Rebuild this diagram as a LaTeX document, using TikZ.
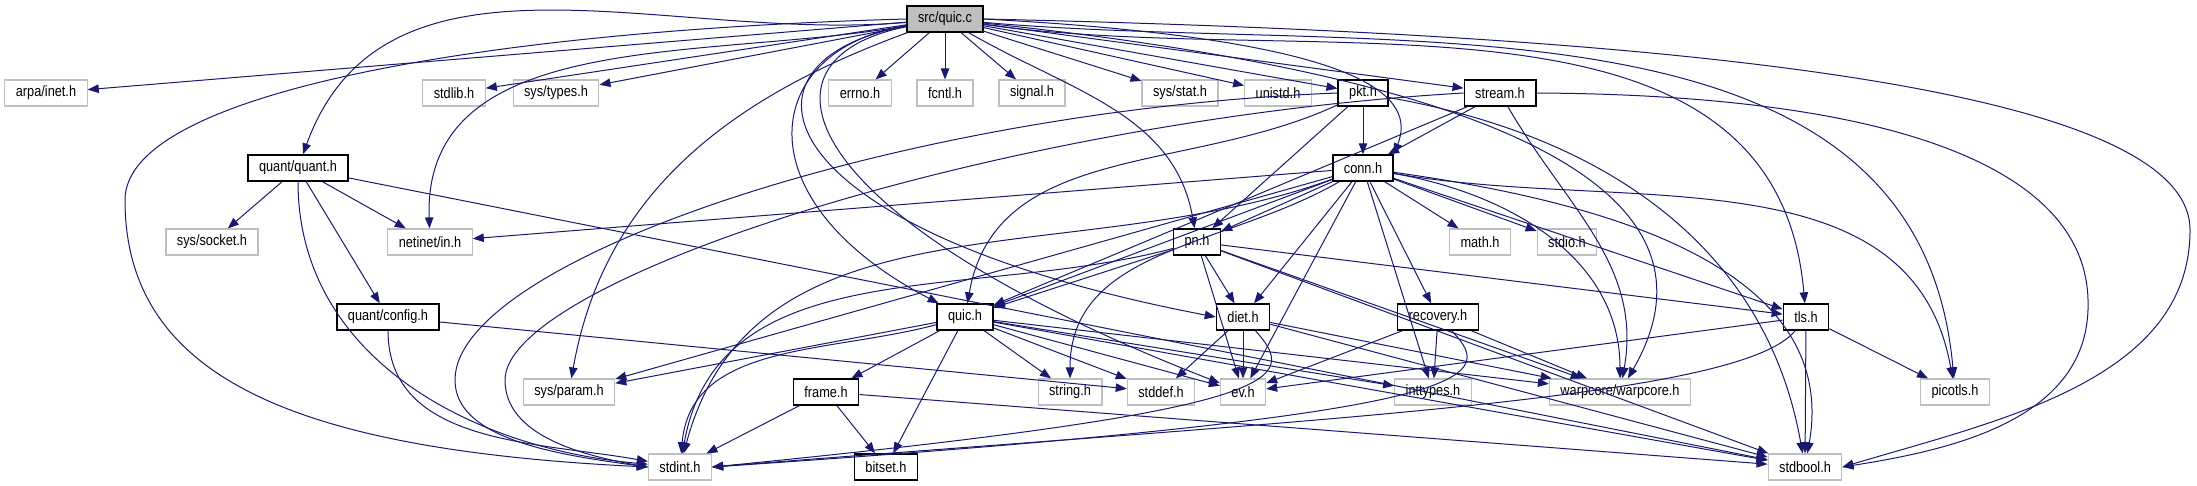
\documentclass[tikz,border=0pt]{standalone}
\usepackage{fontspec}
\setmainfont[FakeStretch=0.85]{Liberation Sans}
\usepackage{tikz}
\usetikzlibrary{arrows.meta}
\definecolor{navy}{HTML}{191970}
\definecolor{boxgray}{HTML}{BFBFBF}
\begin{document}
\begin{tikzpicture}[x=1pt,y=-1pt,
  arr/.style={-{Triangle[length=11pt,width=8.5pt]},draw=navy,line width=1pt},
  box/.style={minimum height=26pt,inner xsep=11pt,inner ysep=0pt,font=\fontsize{15}{15}\selectfont},
  sys/.style={box,draw=boxgray,line width=1.2pt},
  hdr/.style={box,draw=black,line width=1.4pt}]
\useasboundingbox (0,0) rectangle (2197,485);
\node[box,draw=black,fill=boxgray,line width=1.4pt] (quicc) at (945,19) {src/quic.c};
% system headers
\foreach \n/\x/\y/\t in {arpa/46/93/{arpa/inet.h},stdlib/454/93/stdlib.h,systypes/556/93/{sys/types.h},
  errno/860/93/errno.h,fcntl/945/93/fcntl.h,signal/1032/93/signal.h,sysstat/1180/93/{sys/stat.h},
  unistd/1278/93/unistd.h,syssocket/212/242/{sys/socket.h},netinet/430/242/{netinet/in.h},
  math/1480/242/math.h,stdio/1567/242/stdio.h,sysparam/569/392/{sys/param.h},string/1070/392/string.h,
  stddef/1161/392/stddef.h,ev/1243/392/ev.h,inttypes/1433/392/inttypes.h,
  warpcore/1620/392/{warpcore/warpcore.h},picotls/1955/392/picotls.h,stdint/680/467/stdint.h,
  stdbool/1805/467/stdbool.h}
  \node[sys] (\n) at (\x,\y) {\t};
% project headers
\foreach \n/\x/\y/\t in {pkt/1363/93/pkt.h,stream/1500/93/stream.h,quant/298/168/{quant/quant.h},
  conn/1363/168/conn.h,pn/1197/242/pn.h,config/388/317/{quant/config.h},quich/965/317/quic.h,
  diet/1243/317/diet.h,recovery/1438/317/recovery.h,tls/1806/317/tls.h,frame/826/392/frame.h,
  bitset/886/467/bitset.h}
  \node[hdr] (\n) at (\x,\y) {\t};
% straight includes
\foreach \a/\b in {quicc/arpa,quicc/stdlib,quicc/systypes,quicc/errno,quicc/fcntl,quicc/signal,
  quicc/sysstat,quicc/unistd,quicc/pkt,quicc/stream,
  quant/syssocket,quant/netinet,quant/config,quant/stdbool,config/stddef,
  pkt/conn,pkt/pn,stream/conn,stream/quich,
  conn/netinet,conn/math,conn/stdio,conn/pn,conn/quich,conn/diet,conn/recovery,conn/tls,
  conn/inttypes,conn/sysparam,conn/ev,
  pn/diet,pn/ev,pn/quich,pn/tls,pn/stdbool,pn/warpcore,
  quich/frame,quich/bitset,quich/string,quich/stddef,quich/ev,quich/inttypes,
  quich/stdbool,quich/sysparam,quich/warpcore,
  diet/stddef,diet/ev,diet/warpcore,diet/stdbool,recovery/ev,recovery/inttypes,recovery/warpcore,
  tls/stdbool,tls/picotls,tls/ev,frame/stdint,frame/bitset,frame/stdbool}
  \draw[arr] (\a) -- (\b);
% curved includes
\draw[arr] (quicc.west) .. controls (500,30) and (125,90) .. (125,200)
  .. controls (125,380) and (300,450) .. (stdint.west);
\draw[arr] (quicc.east) .. controls (1700,35) and (2190,90) .. (2190,230)
  .. controls (2190,380) and (2000,420) .. (stdbool.east);
\draw[arr] (stream.east) .. controls (1900,95) and (2085,170) .. (2088,300)
  .. controls (2092,420) and (1950,450) .. (stdbool.east);
\draw[arr] (pkt.west) .. controls (900,110) and (455,260) .. (455,380)
  .. controls (455,440) and (560,455) .. (stdint.west);
\draw[arr] (stream.west) .. controls (1000,120) and (505,280) .. (505,380)
  .. controls (505,435) and (580,455) .. (stdint.west);
\draw[arr] (quicc) to[out=185,in=70] (quant);
\draw[arr] (quicc) to[out=190,in=92] (netinet);
\draw[arr] (quicc) to[out=200,in=80] (sysparam);
\draw[arr] (quicc) .. controls (760,50) and (740,200) .. (quich);
\draw[arr] (quicc) .. controls (720,60) and (760,230) .. (diet.west);
\draw[arr] (quicc) .. controls (740,60) and (800,220) .. (ev);
\draw[arr] (quicc) to[out=-30,in=100] (pn);
\draw[arr] (quicc.east) .. controls (1380,40) and (1415,100) .. (conn.north east);
\draw[arr] (quicc) to[out=-8,in=95] (tls);
\draw[arr] (quicc) to[out=-5,in=95] (picotls);
\draw[arr] (quicc) to[out=-6,in=60] (warpcore);
\draw[arr] (quant) to[out=-90,in=175] (stdint);
\draw[arr] (config) to[out=-90,in=170] (stdint);
\draw[arr] (pkt) to[out=205,in=80] (quich);
\draw[arr] (pkt) to[out=-10,in=100] (stdbool);
\draw[arr] (stream) to[out=-60,in=80] (warpcore);
\draw[arr] (conn) to[out=200,in=75] (stdint);
\draw[arr] (pn) to[out=195,in=80] (stdint);
\draw[arr] (quich) to[out=195,in=85] (stdint);
\draw[arr] (diet) .. controls (1300,380) and (1290,410) .. (stdint.east);
\draw[arr] (recovery) .. controls (1500,380) and (1480,415) .. (stdint.east);
\draw[arr] (tls) .. controls (1740,400) and (1300,420) .. (stdint.east);
\draw[arr] (conn) to[out=210,in=90] (string);
\draw[arr] (conn) to[out=-10,in=90] (warpcore);
\draw[arr] (conn) to[out=-8,in=80] (stdbool);
\draw[arr] (conn) to[out=-10,in=100] (picotls);
\end{tikzpicture}
\end{document}
